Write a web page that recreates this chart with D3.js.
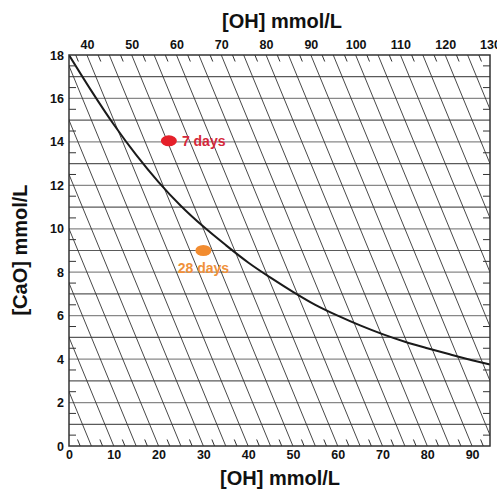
<!DOCTYPE html>
<html>
<head>
<meta charset="utf-8">
<script src="https://cdn.jsdelivr.net/npm/d3@7"></script>
<style>
  body { margin: 0; background: #fff; }
  svg { display: block; font-family: Arial, "Liberation Sans", sans-serif; }
</style>
</head>
<body>
<svg width="497" height="489"></svg>
<script>
var width = 497;
var height = 489;

// saturation curve: [OH] (bottom scale) vs [CaO]
var curveOH = [0, 5, 10, 15, 20, 25, 30, 35, 40, 45, 50, 55, 60, 65, 70, 75, 80, 85, 90, 94];
var curveCaO = [18, 16.35, 14.8, 13.4, 12.15, 11.05, 10.1, 9.25, 8.45, 7.75, 7.1, 6.5, 6.0, 5.55, 5.15, 4.8, 4.5, 4.22, 3.95, 3.75];

// measured samples
var sampleNames = ["7 days", "28 days"];
var sampleOH = [22.3, 30];
var sampleCaO = [14.05, 9.0];
var sampleColors = ["#e5202a", "#f28c30"];

// tick values
var bottomTicks = [0, 10, 20, 30, 40, 50, 60, 70, 80, 90];
var topTicks = [40, 50, 60, 70, 80, 90, 100, 110, 120, 130];
var leftTicks = [0, 2, 4, 6, 8, 10, 12, 14, 16, 18];

var margin = { left: 69, right: 7, top: 55, bottom: 43 };
var x = d3.scaleLinear().domain([0, 94]).range([margin.left, width - margin.right]);
var xTop = d3.scaleLinear().domain([36, 130]).range([margin.left, width - margin.right]);
var y = d3.scaleLinear().domain([0, 18]).range([height - margin.bottom, margin.top]);

var svg = d3.select("svg");

svg.append("defs").append("clipPath").attr("id", "plot")
    .append("rect")
    .attr("x", x(0)).attr("y", y(18))
    .attr("width", x(94) - x(0)).attr("height", y(0) - y(18));

var grid = svg.append("g").attr("clip-path", "url(#plot)");

// horizontal grid every 1 mmol/L
grid.selectAll(".hline")
    .data(d3.range(1, 18))
    .enter()
    .append("line")
    .attr("x1", x(0)).attr("x2", x(94))
    .attr("y1", function (d) { return y(d); })
    .attr("y2", function (d) { return y(d); })
    .attr("stroke", function (d) { return d % 2 ? "#5a5a5a" : "#888"; })
    .attr("stroke-width", 1.2);

// diagonals: [OH] + 2[CaO] = const, every 5
grid.selectAll(".dline")
    .data(d3.range(5, 131, 5))
    .enter()
    .append("line")
    .attr("x1", function (t) { return x(t - 36); })
    .attr("y1", y(18))
    .attr("x2", function (t) { return x(t); })
    .attr("y2", y(0))
    .attr("stroke", "#333")
    .attr("stroke-width", 0.9);

// small slanted ticks between diagonals
var half = d3.range(2.5, 130, 5);
svg.append("g").selectAll("line")
    .data(half.filter(function (t) { return t < 94; }))
    .enter()
    .append("line")
    .attr("x1", function (t) { return x(t); })
    .attr("y1", y(0))
    .attr("x2", function (t) { return x(t - 0.6); })
    .attr("y2", y(0.3))
    .attr("stroke", "#333");
svg.append("g").selectAll("line")
    .data(half.filter(function (t) { return t > 36; }))
    .enter()
    .append("line")
    .attr("x1", function (t) { return xTop(t); })
    .attr("y1", y(18))
    .attr("x2", function (t) { return xTop(t) + (x(0.6) - x(0)); })
    .attr("y2", y(17.7))
    .attr("stroke", "#333");

// inward minor ticks on left and right at half units
var halfY = d3.range(0.5, 18, 1);
svg.append("g").selectAll("line")
    .data(halfY)
    .enter()
    .append("line")
    .attr("x1", x(0)).attr("x2", x(0) + 7)
    .attr("y1", function (d) { return y(d); })
    .attr("y2", function (d) { return y(d); })
    .attr("stroke", "#333");
svg.append("g").selectAll("line")
    .data(halfY)
    .enter()
    .append("line")
    .attr("x1", x(94)).attr("x2", x(94) - 7)
    .attr("y1", function (d) { return y(d); })
    .attr("y2", function (d) { return y(d); })
    .attr("stroke", "#333");

// curve
var pts = curveOH.map(function (d, i) { return [d, curveCaO[i]]; });
var line = d3.line()
    .x(function (d) { return x(d[0]); })
    .y(function (d) { return y(d[1]); })
    .curve(d3.curveMonotoneX);
grid.append("path")
    .datum(pts)
    .attr("d", line)
    .attr("fill", "none")
    .attr("stroke", "#1a1a1a")
    .attr("stroke-width", 2);

// frame
svg.append("rect")
    .attr("x", x(0)).attr("y", y(18))
    .attr("width", x(94) - x(0)).attr("height", y(0) - y(18))
    .attr("fill", "none")
    .attr("stroke", "#333")
    .attr("stroke-width", 1.5);

// axes (labels only)
var axB = svg.append("g")
    .attr("transform", "translate(0," + y(0) + ")")
    .call(d3.axisBottom(x).tickValues(bottomTicks).tickSize(0).tickPadding(4));
var axT = svg.append("g")
    .attr("transform", "translate(0," + y(18) + ")")
    .call(d3.axisTop(xTop).tickValues(topTicks).tickSize(0).tickPadding(6));
var axL = svg.append("g")
    .attr("transform", "translate(" + x(0) + ",0)")
    .call(d3.axisLeft(y).tickValues(leftTicks).tickSize(0).tickPadding(5));
[axB, axT, axL].forEach(function (a) {
    a.select(".domain").remove();
    a.selectAll("text")
        .attr("font-family", "Arial, 'Liberation Sans', sans-serif")
        .attr("font-size", 12.5)
        .attr("font-weight", "bold")
        .attr("fill", "#111");
});

// samples
svg.selectAll(".sample")
    .data(sampleNames)
    .enter()
    .append("ellipse")
    .attr("cx", function (d, i) { return x(sampleOH[i]); })
    .attr("cy", function (d, i) { return y(sampleCaO[i]); })
    .attr("rx", 8)
    .attr("ry", 5.5)
    .attr("fill", function (d, i) { return sampleColors[i]; });

svg.append("text")
    .attr("x", x(sampleOH[0]) + 13)
    .attr("y", y(sampleCaO[0]) + 5)
    .attr("font-size", 14)
    .attr("font-weight", "bold")
    .attr("fill", "#d5283a")
    .text(sampleNames[0]);
svg.append("text")
    .attr("x", x(sampleOH[1]))
    .attr("y", y(sampleCaO[1]) + 22)
    .attr("text-anchor", "middle")
    .attr("font-size", 14)
    .attr("font-weight", "bold")
    .attr("fill", "#f0913a")
    .text(sampleNames[1]);

// titles
svg.append("text")
    .attr("x", 282).attr("y", 28)
    .attr("text-anchor", "middle")
    .attr("font-size", 20).attr("font-weight", "bold").attr("fill", "#111")
    .text("[OH] mmol/L");
svg.append("text")
    .attr("x", 280).attr("y", 485)
    .attr("text-anchor", "middle")
    .attr("font-size", 20).attr("font-weight", "bold").attr("fill", "#111")
    .text("[OH] mmol/L");
svg.append("text")
    .attr("transform", "translate(27,250)rotate(-90)")
    .attr("text-anchor", "middle")
    .attr("font-size", 20).attr("font-weight", "bold").attr("fill", "#111")
    .text("[CaO] mmol/L");
</script>
</body>
</html>
